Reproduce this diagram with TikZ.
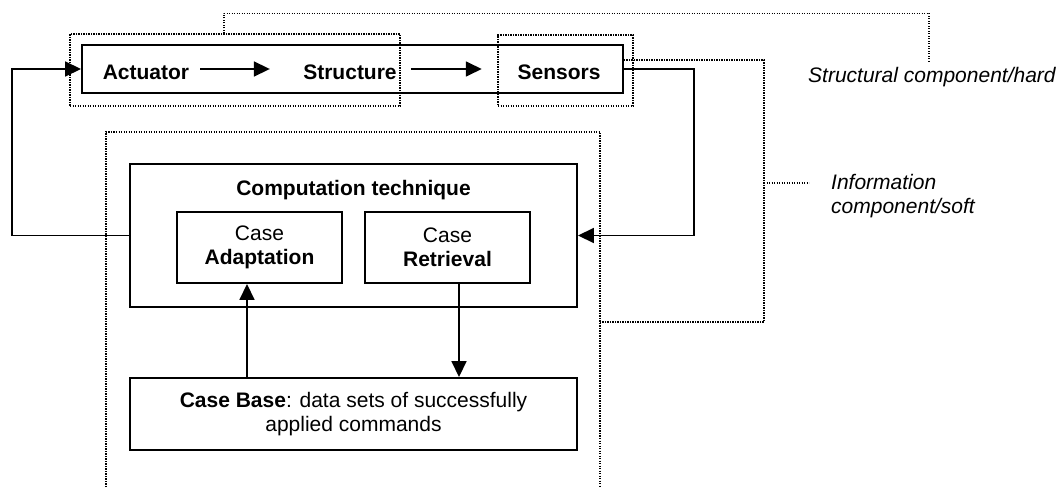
\documentclass[tikz,border=0pt]{standalone}
\usepackage{fontspec}
\setmainfont{Liberation Sans}
\usetikzlibrary{arrows.meta}
\newcommand\myfs{\fontsize{21}{24}\selectfont}
\begin{document}
\begin{tikzpicture}[x=1pt,y=-1pt,
  every node/.style={font=\myfs},
  box/.style={draw, line width=1.9pt, inner sep=0pt, align=center, font=\myfs},
  lbl/.style={inner sep=0pt, font=\myfs\bfseries},
  conn/.style={line width=1.7pt},
  arr/.style={conn, -{Triangle[length=16pt,width=15pt]}},
  dot/.style={line width=1.4pt, dash pattern=on 1.2pt off 1.3pt},
  dotbox/.style={dot, draw, inner sep=0pt},
  note/.style={inner sep=0pt, font=\myfs\itshape, align=left},
]
\useasboundingbox (0,0) rectangle (1062,487);

% dotted groups (behind)
\node[dotbox, minimum width=330pt, minimum height=72pt] (g1) at (235,70) {};
\node[dotbox, minimum width=135pt, minimum height=71pt] (g2) at (565.5,70.5) {};
\coordinate (tb) at (929,61);
\draw[dot] ([xshift=-11pt]g1.north) -- ++(0,-20) -| (tb);

% main row
\node[box, minimum width=541pt, minimum height=48pt] (main) at (352.5,69) {};
\node[lbl, anchor=base] (act) at (146,79) {Actuator};
\node[lbl, anchor=base] (str) at (350,79) {Structure};
\node[lbl, anchor=base] (sen) at (559,79) {Sensors};
\draw[arr] ([xshift=10.8pt]act.east |- main.center) -- ([xshift=-33.3pt]str.west |- main.center);
\draw[arr] ([xshift=14pt]str.east |- main.center) -- ([xshift=-35.6pt]sen.west |- main.center);

% information bracket
\coordinate (ib1) at (764,60);
\coordinate (ib2) at (764,322);
\coordinate (ib3) at (600,322);
\draw[dot] ([yshift=9pt]main.east) -- (ib1) -- (ib2) -- (ib3);
\coordinate (st1) at (764,183);
\coordinate (st2) at (809,183);
\draw[dot] (st1) -- (st2);

% big dotted region
\coordinate (bd1) at (106,487);
\coordinate (bd2) at (106,132);
\coordinate (bd3) at (600,132);
\coordinate (bd4) at (600,487);
\draw[dot] (bd1) -- (bd2) -- (bd3) -- (bd4);

% computation
\node[box, minimum width=447pt, minimum height=143pt] (comp) at (353.5,235.5) {};
\node[lbl, anchor=base] (ctitle) at (353.5,195.5) {Computation technique};
\node[box, minimum width=165pt, minimum height=71pt] (adapt) at (259.5,247.5) {Case\\\textbf{Adaptation}};
\node[box, minimum width=165pt, minimum height=71pt] (retr) at (447.5,247.5) {Case\\\textbf{Retrieval}};
\node[box, minimum width=447pt, minimum height=72pt] (cb) at (353.5,414) {\textbf{Case Base}: data sets of successfully\\applied commands};

% feedback connectors
\coordinate (lx) at (12,150);
\coordinate (rx) at (694,150);
\draw[arr] (comp.west) -- (comp.west -| lx) |- (main.west);
\draw[arr] (main.east) -| (rx) |- (comp.east);

% case base connectors
\draw[arr] ([xshift=-12.5pt]adapt.south |- cb.north) -- ([xshift=-12.5pt]adapt.south);
\draw[arr] ([xshift=11.5pt]retr.south) -- ([xshift=11.5pt]retr.south |- cb.north);

% notes
\node[note, anchor=base west] (n1) at (808,82) {Structural component/hard};
\node[note, anchor=west] (n2) at (831,196) {Information\\component/soft};
\end{tikzpicture}
\end{document}
